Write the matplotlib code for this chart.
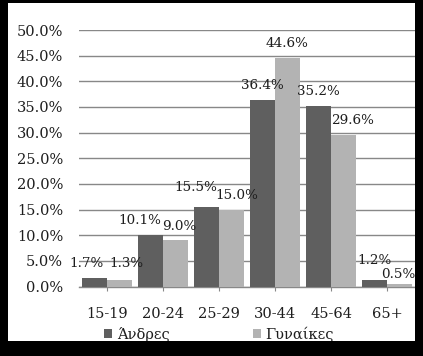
import numpy as np
import matplotlib
matplotlib.use('Agg')
import matplotlib.pyplot as plt
from matplotlib.patches import Rectangle
from matplotlib.ticker import PercentFormatter

plt.rcParams['font.family'] = 'DejaVu Serif'

groups = ['15-19', '20-24', '25-29', '30-44', '45-64', '65+']
men = [1.7, 10.1, 15.5, 36.4, 35.2, 1.2]
women = [1.3, 9.0, 15.0, 44.6, 29.6, 0.5]
series_names = ['Άνδρες', 'Γυναίκες']

# label nudges (px) so the small labels don't collide, like excel did
men_dx = [-8, -11, -11, 0, 0, 0]
men_dy = [0, 0, 5, 0, 0, 6]
women_dx = [7, 4, 5, 0, 9, -1]
women_dy = [2, 0, 0, 0, 0, -5]

W, H = 423, 356
fig = plt.figure(figsize=(W / 100, H / 100), dpi=100)
fig.patch.set_facecolor('white')

ax = fig.add_axes([79 / W, (H - 286.5) / H, (415 - 79) / W, (286.5 - 30) / H])
x = np.arange(len(groups))
bw = 0.446
b1 = ax.bar(x - bw / 2, men, bw, color='#5f5f5f', zorder=3, label=series_names[0])
b2 = ax.bar(x + bw / 2, women, bw, color='#b3b3b3', zorder=3, label=series_names[1])

for bars, vals, dxs, dys in [(b1, men, men_dx, men_dy), (b2, women, women_dx, women_dy)]:
    for r, v, dx, dy in zip(bars, vals, dxs, dys):
        ax.annotate(f'{v:.1f}%', (r.get_x() + r.get_width() / 2, v),
                    xytext=(dx * 0.72, (14 + dy) * 0.72), textcoords='offset points',
                    ha='center', va='center', fontsize=9.7, color='#1e1e1e', zorder=4)

ax.set_xlim(-0.5, 5.5)
ax.set_ylim(0, 50)
ax.set_yticks(np.arange(0, 51, 5))
ax.yaxis.set_major_formatter(PercentFormatter(decimals=1))
ax.set_xticks(x)
ax.set_xticklabels(groups)
ax.grid(axis='y', color='#888888', linewidth=1, zorder=0)
for s in ['top', 'right', 'left']:
    ax.spines[s].set_visible(False)
ax.spines['bottom'].set_color('#888888')
ax.spines['bottom'].set_linewidth(1)
ax.tick_params(axis='y', length=0, pad=11.5, labelsize=10.5, labelcolor='#1e1e1e')
ax.tick_params(axis='x', length=3, color='#888888', pad=12, labelsize=10.5, labelcolor='#1e1e1e')

leg = fig.legend(handles=[b1, b2], loc='center left', bbox_to_anchor=(97 / W, 1 - 334 / H),
                 ncol=2, frameon=False, fontsize=10.5, handlelength=0.55, handleheight=0.55,
                 handletextpad=0.3, columnspacing=5.7, borderpad=0)
for t in leg.get_texts():
    t.set_color('#1e1e1e')

# black frame around the picture
for rx, ry, rw, rh in [(0, 0, 8, H), (415, 0, 8, H), (0, H - 3, W, 3), (0, 0, W, H - 341)]:
    fig.add_artist(Rectangle((rx / W, ry / H), rw / W, rh / H, transform=fig.transFigure,
                             facecolor='black', edgecolor='none', zorder=10))

fig.savefig('out.png', dpi=100)
